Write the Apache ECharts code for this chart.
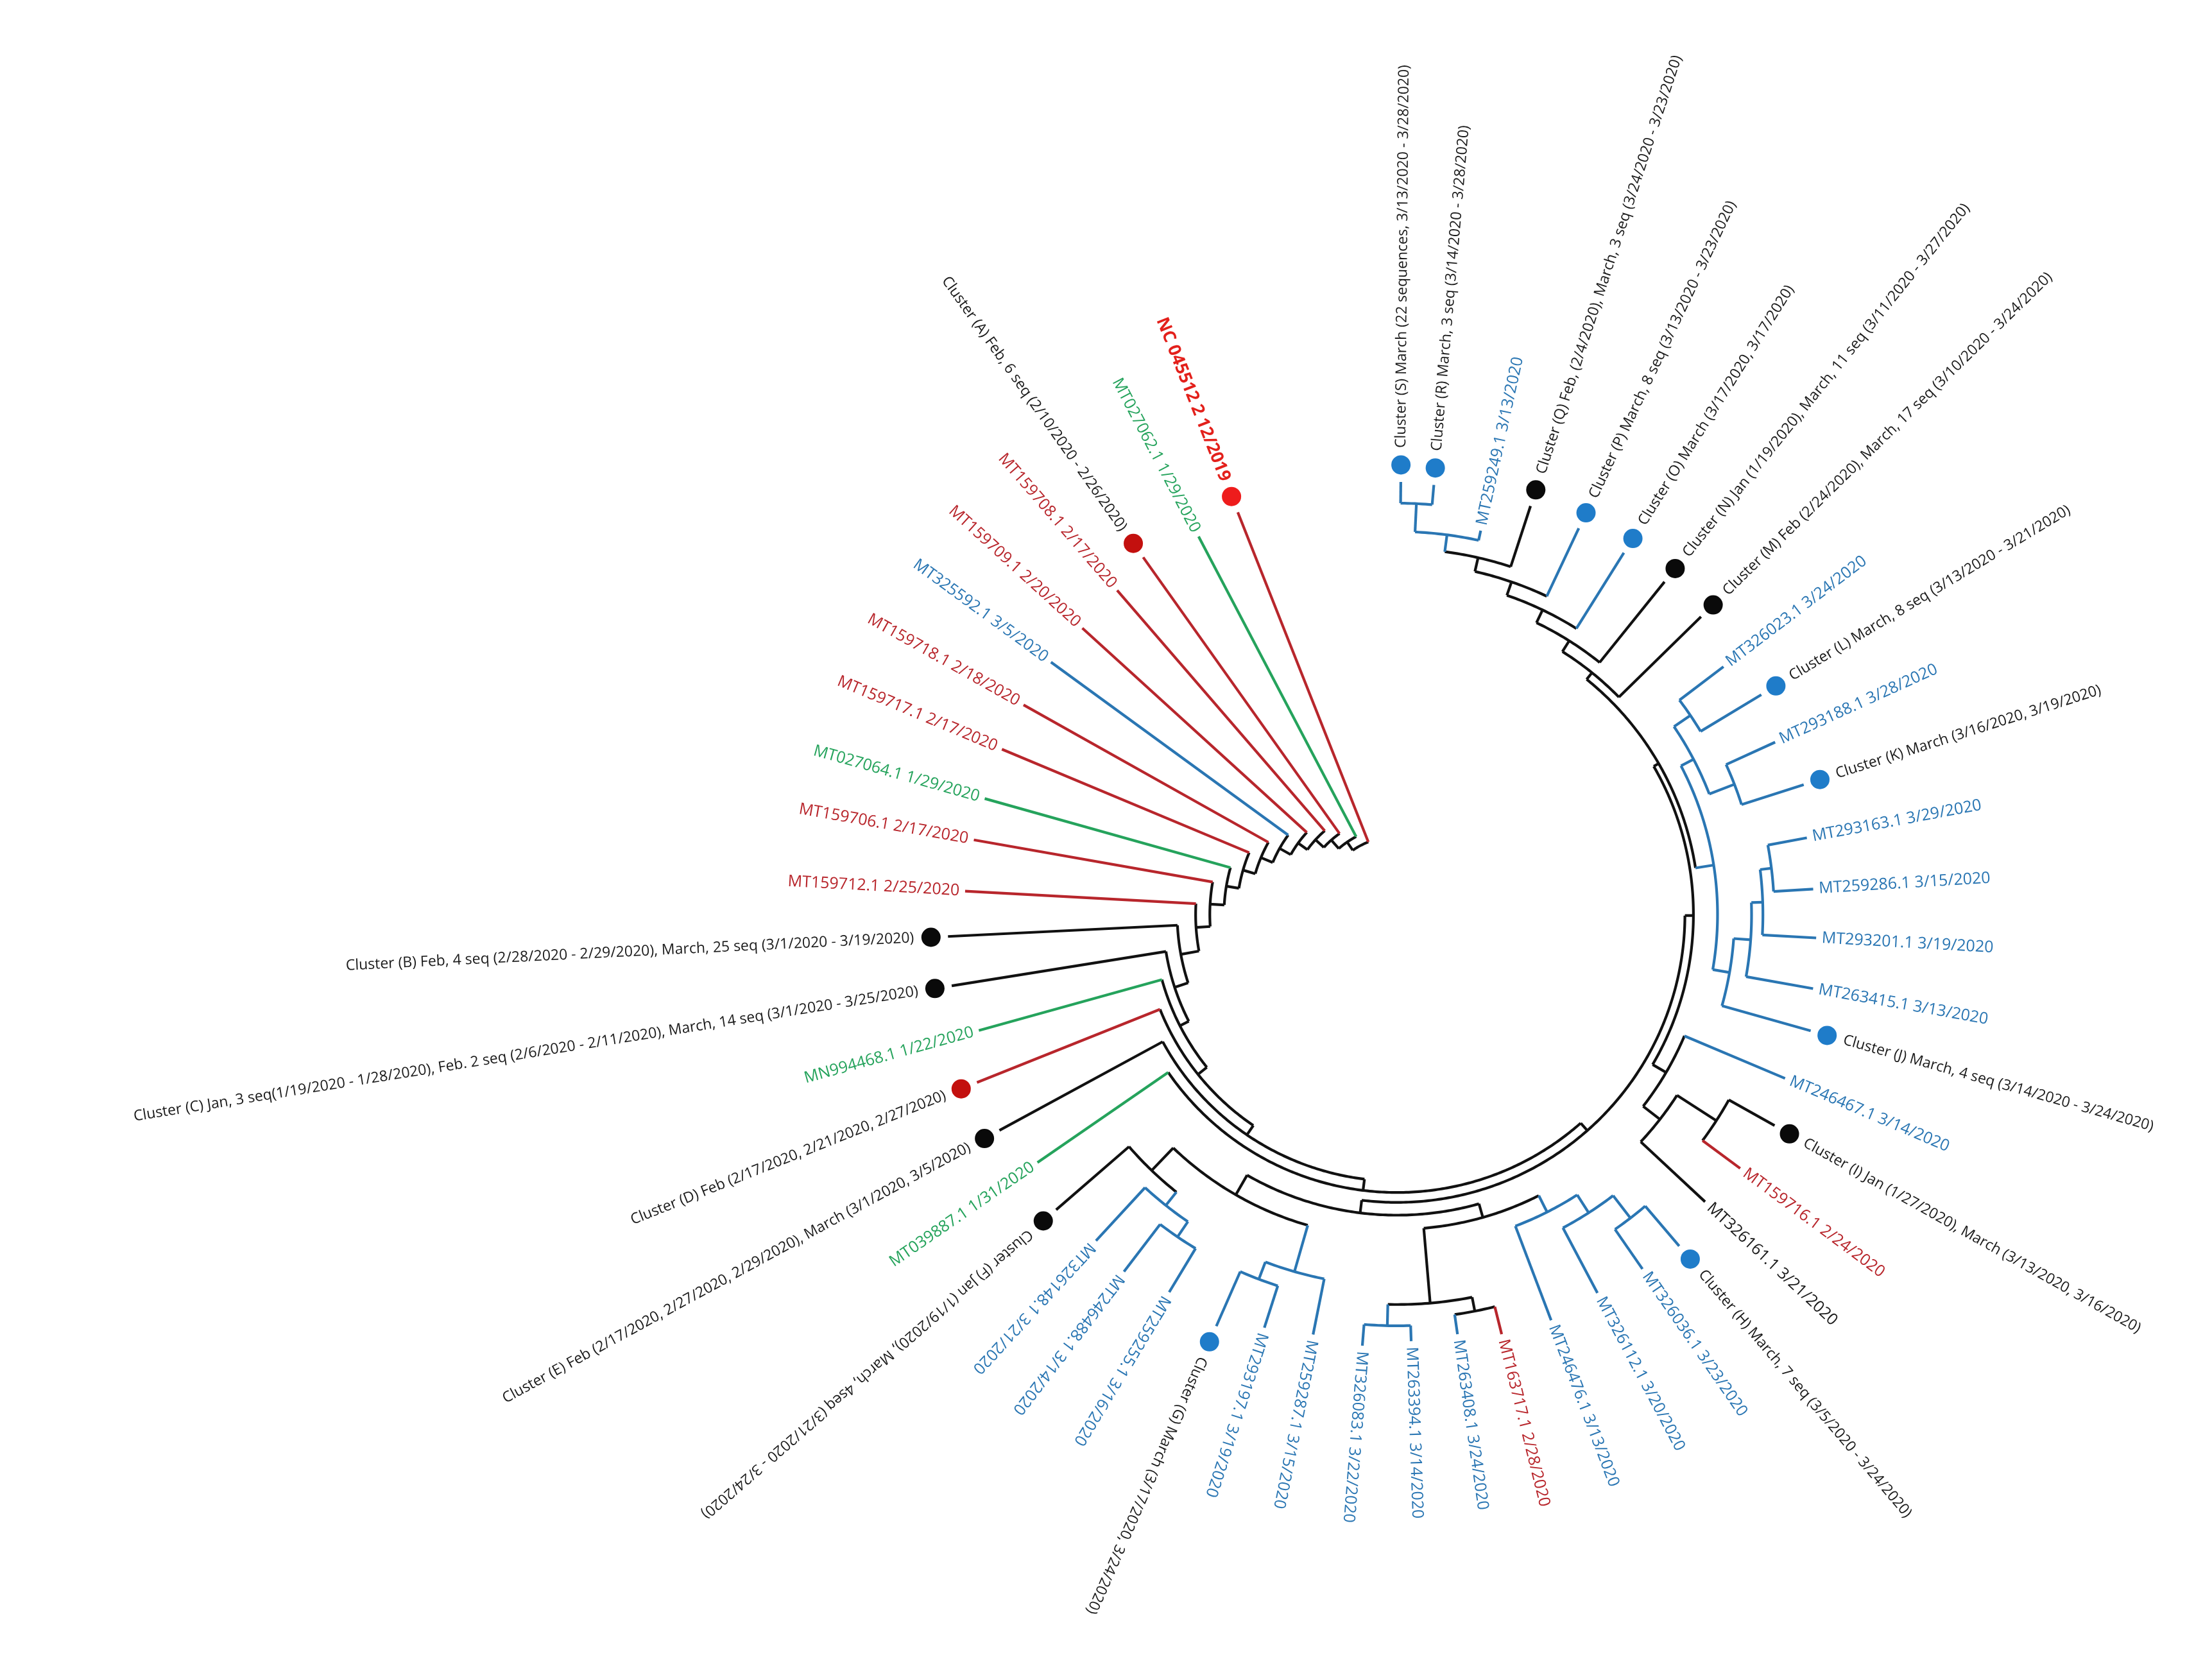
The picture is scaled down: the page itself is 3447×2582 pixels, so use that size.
<!DOCTYPE html>
<html><head><meta charset="utf-8">
<script src="https://cdn.jsdelivr.net/npm/echarts@6/dist/echarts.min.js"></script>
<style>html,body{margin:0;padding:0;background:#fff}#c{width:3447px;height:2582px}</style>
</head><body><div id="c"></div>
<script>
// ---- leaves (clockwise from top) ----
const leafIds = ['S','R','L3','Q','P','O','N','M','L9','L','L11','K','L13','L14','L15','L16','J','L18','I','L20','L21','H','L23','L24','L25','L26','L27','L28','L29','L30','L31','G','L33','L34','L35','F','L37','E','D','L40','C','B','L43','L44','L45','L46','L47','L48','L49','L50','A','L52','NC'];
const leafLabels = [
 'Cluster (S) March (22 sequences, 3/13/2020 - 3/28/2020)',
 'Cluster (R) March, 3 seq (3/14/2020 - 3/28/2020)',
 'MT259249.1 3/13/2020',
 'Cluster (Q) Feb, (2/4/2020), March, 3 seq (3/24/2020 - 3/23/2020)',
 'Cluster (P) March, 8 seq (3/13/2020 - 3/23/2020)',
 'Cluster (O) March (3/17/2020, 3/17/2020)',
 'Cluster (N) Jan (1/19/2020), March, 11 seq (3/11/2020 - 3/27/2020)',
 'Cluster (M) Feb (2/24/2020), March, 17 seq (3/10/2020 - 3/24/2020)',
 'MT326023.1 3/24/2020',
 'Cluster (L) March, 8 seq (3/13/2020 - 3/21/2020)',
 'MT293188.1 3/28/2020',
 'Cluster (K) March (3/16/2020, 3/19/2020)',
 'MT293163.1 3/29/2020',
 'MT259286.1 3/15/2020',
 'MT293201.1 3/19/2020',
 'MT263415.1 3/13/2020',
 'Cluster (J) March, 4 seq (3/14/2020 - 3/24/2020)',
 'MT246467.1 3/14/2020',
 'Cluster (I) Jan (1/27/2020), March (3/13/2020, 3/16/2020)',
 'MT159716.1 2/24/2020',
 'MT326161.1 3/21/2020',
 'Cluster (H) March, 7 seq (3/5/2020 - 3/24/2020)',
 'MT326036.1 3/23/2020',
 'MT326112.1 3/20/2020',
 'MT246476.1 3/13/2020',
 'MT163717.1 2/28/2020',
 'MT263408.1 3/24/2020',
 'MT263394.1 3/14/2020',
 'MT326083.1 3/22/2020',
 'MT259287.1 3/15/2020',
 'MT293197.1 3/19/2020',
 'Cluster (G) March (3/17/2020, 3/24/2020)',
 'MT259255.1 3/16/2020',
 'MT246488.1 3/14/2020',
 'MT326148.1 3/21/2020',
 'Cluster (F) Jan (1/19/2020), March, 4seq (3/21/2020 - 3/24/2020)',
 'MT039887.1 1/31/2020',
 'Cluster (E) Feb (2/17/2020, 2/27/2020, 2/29/2020), March (3/1/2020, 3/5/2020)',
 'Cluster (D) Feb (2/17/2020, 2/21/2020, 2/27/2020)',
 'MN994468.1 1/22/2020',
 'Cluster (C) Jan, 3 seq(1/19/2020 - 1/28/2020), Feb. 2 seq (2/6/2020 - 2/11/2020), March, 14 seq (3/1/2020 - 3/25/2020)',
 'Cluster (B) Feb, 4 seq (2/28/2020 - 2/29/2020), March, 25 seq (3/1/2020 - 3/19/2020)',
 'MT159712.1 2/25/2020',
 'MT159706.1 2/17/2020',
 'MT027064.1 1/29/2020',
 'MT159717.1 2/17/2020',
 'MT159718.1 2/18/2020',
 'MT325592.1 3/5/2020',
 'MT159709.1 2/20/2020',
 'MT159708.1 2/17/2020',
 'Cluster (A) Feb, 6 seq (2/10/2020 - 2/26/2020)',
 'MT027062.1 1/29/2020',
 'NC 045512 2 12/2019'];
const leafAngles = [0.5,4.9,12.3,18.1,25.2,32.1,38.8,45.6,52.8,58.9,65.5,72.3,79.4,86.5,93.2,100.1,105.7,112.9,119.2,126.5,133,139.6,145.3,152.1,159.2,166,171.8,178.1,184.6,191.3,197.8,203.7,211.1,217.4,222.7,229.1,235.4,241.5,248.2,254.5,260.9,267.2,273.1,280,285.7,292.7,299.3,306.1,312.3,319.2,324.6,332.3,338.4];
const leafRadii = [317,316,281,315,313,313,313,312,293,312,297,313,298,298,300,302,315,301,317,305,301,319,308,306,310,309,303,305,309,306,310,329,315,321,317,330,312,331,331,310,330,329,309,307,306,306,306,306,304,306,321,305,317];
// line colour: b blue, r red, g green, k black
const leafColors = ['b','b','b','k','b','b','k','k','b','b','b','b','b','b','b','b','b','b','k','r','k','b','b','b','b','r','b','b','b','b','b','b','b','b','b','k','g','k','r','g','k','k','r','r','g','r','r','b','r','r','r','g','r'];
// dot colour ('' = no dot, label directly)
const leafDots = ['b','b','','k','b','b','k','k','','b','','b','','','','','b','','k','','','b','','','','','','','','','','b','','','','k','','k','r','','k','k','','','','','','','','','r','','R'];
const leafParents = ['tc7','tc7','tc6','tc5','tc4','tc3','tc2','topC','bcB2','bcB2','bcB1','bcB1','bcA4','bcA4','bcA3','bcA2','bcA','rA','ig','ig','rA1','hg2','hg2','hg1','b4','cB','cB','cA','cA','Gg','Gsub','Gsub','fg3','fg3','fg2','fg','N16','N15','N14','N13','N12','N11','N10','N9','N8','N7','N6','N5','N4','N3','N2','N1','R0'];
// ---- internal nodes ----
const nodeIds     = ['R0','N1','N2','N3','N4','N5','N6','N7','N8','N9','N10','N11','N12','N13','N14','N15','N16','N17','BT','b1','fg','fg2','fg3','Gg','Gsub','b2','b3','cA','cB','b4','hg1','hg2','RT','rA','rA1','ig','rB','bc','bcA','bcA2','bcA3','bcA4','bcB','bcB1','bcB2','topC','tc2','tc3','tc4','tc5','tc6','tc7'];
const nodeParents = [null,'R0','N1','N2','N3','N4','N5','N6','N7','N8','N9','N10','N11','N12','N13','N14','N15','N16','N17','BT','b1','fg','fg2','b1','Gg','BT','b2','b3','b3','b2','b4','hg1','N17','RT','rA','rA1','RT','rB','bc','bcA','bcA2','bcA3','bc','bcB','bcB','rB','topC','tc2','tc3','tc4','tc5','tc6'];
const nodeRadii   = [55,62,70,78,86,95,104,113,122,132,142,155,165,172,180,188,196,203,212,228,250,262,275,262,275,222,275,290,285,235,250,270,209,220,235,268,213,226,238,250,258,266,236,255,250,219,228,238,248,258,270,290];

const COL = {b:'#2a76b3', r:'#b8262c', g:'#25a35c', k:'#111111'};
const DOT = {b:'#1f7cc9', r:'#c3100e', k:'#0a0a0a', R:'#ee1c1c'};
const TXT = {b:'#2a76b3', r:'#b8262c', g:'#25a35c', k:'#1a1a1a'};

// build tree
const N = {};
nodeIds.forEach((id,i)=>{N[id]={id,parent:nodeParents[i],r:nodeRadii[i],children:[],leaf:false};});
leafIds.forEach((id,i)=>{N[id]={id,parent:leafParents[i],r:leafRadii[i],a:leafAngles[i],leaf:true,i,children:[]};});
Object.values(N).forEach(n=>{if(n.parent)N[n.parent].children.push(n.id);});
function calc(id){const n=N[id];if(n.leaf){n.col=leafColors[n.i];return;}
  n.children.forEach(calc);
  const ca=n.children.map(c=>N[c].a);
  n.amin=Math.min(...ca);n.amax=Math.max(...ca);n.a=(n.amin+n.amax)/2;
  const cs=new Set(n.children.map(c=>N[c].col));n.col=cs.size===1?[...cs][0]:'k';}
calc('R0');
const allIds = nodeIds.concat(leafIds);
const data = allIds.map(id=>[N[id].r,N[id].a,id]);

function render(params, api){
  const n = N[allIds[params.dataIndex]];
  const ch = [];
  const lw = 4.2;
  const col = COL[n.col];
  const dot = n.leaf ? leafDots[n.i] : '';
  if(n.parent){
    const pr = N[n.parent].r;
    let end = n.r;
    if(n.leaf) end = dot ? n.r-12 : n.r-4;
    const p0 = api.coord([pr,n.a]), p1 = api.coord([end,n.a]);
    ch.push({type:'line',shape:{x1:p0[0],y1:p0[1],x2:p1[0],y2:p1[1]},style:{stroke:col,lineWidth:lw}});
  }
  if(!n.leaf){
    const pts=[];
    for(let a=n.amin;a<n.amax;a+=0.5) pts.push(api.coord([n.r,a]));
    pts.push(api.coord([n.r,n.amax]));
    ch.push({type:'polyline',shape:{points:pts},style:{stroke:col,lineWidth:lw,fill:null}});
  } else {
    if(dot){
      const c=api.coord([n.r,n.a]);
      ch.push({type:'circle',shape:{cx:c[0],cy:c[1],r:15},style:{fill:DOT[dot]}});
    }
    const lr = dot ? n.r+12 : n.r;
    const p = api.coord([lr,n.a]);
    const outward = n.a < 233;
    const rot = (outward ? 90-n.a : 270-n.a)*Math.PI/180;
    const isCluster = leafLabels[n.i].startsWith('Cluster');
    const isNC = n.id==='NC';
    ch.push({type:'text',x:p[0],y:p[1],rotation:rot,style:{text:leafLabels[n.i],
      fill: isNC ? '#e3201b' : (isCluster ? '#1a1a1a' : TXT[leafColors[n.i]]),
      font: isNC ? 'bold 27px "Open Sans"' : (isCluster ? '23px "Open Sans"' : '25px "Open Sans"'),
      align: outward?'left':'right', verticalAlign:'middle'}});
  }
  return {type:'group',children:ch};
}

const chart = echarts.init(document.getElementById('c'));
chart.setOption({
  backgroundColor:'#ffffff',
  animation:false,
  polar:{center:[2177,1425],radius:773.5},
  angleAxis:{type:'value',min:-20,max:340,startAngle:110,clockwise:true,show:false},
  radiusAxis:{type:'value',min:0,max:350,show:false},
  series:[{type:'custom',coordinateSystem:'polar',clip:false,data:data,renderItem:render}]
});
</script></body></html>
